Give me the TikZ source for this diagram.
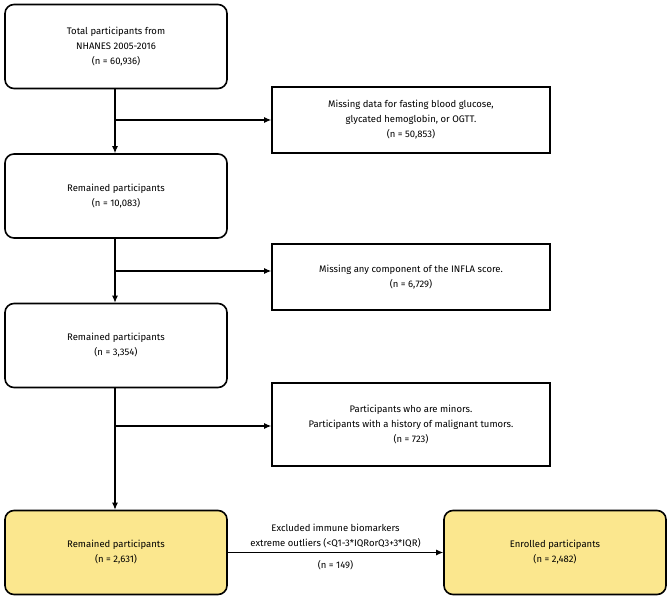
\documentclass[tikz,border=0pt]{standalone}
\usepackage{fontspec}
\setmainfont{Fira Sans}
\usetikzlibrary{arrows.meta,positioning}
\definecolor{boxyellow}{HTML}{FBE78E}
\begin{document}
\begin{tikzpicture}[x=1pt,y=-1pt,font=\fontsize{9.5}{15}\selectfont]
    \tikzstyle{stepbox}=[draw=black,line width=1.6pt,rounded corners=9pt,minimum width=222pt,minimum height=84pt,align=center]
    \tikzstyle{outbox}=[draw=black,line width=1.6pt,minimum width=278pt,align=center]
    \tikzstyle{marrs}=[line width=1.1pt,-{Latex[length=7pt,width=6pt]}]

    \useasboundingbox (0,0) rectangle (669,601);

    \node[stepbox] (total) at (116,46.5) {Total participants from\\NHANES 2005-2016\\(n = 60,936)};
    \node[stepbox] (rem1) at (116,196) {Remained participants\\(n = 10,083)};
    \node[stepbox] (rem2) at (116,345.5) {Remained participants\\(n = 3,354)};
    \node[stepbox,fill=boxyellow] (rem3) at (116,552.5) {Remained participants\\(n = 2,631)};
    \node[stepbox,fill=boxyellow] (enrol) at (555,552.5) {Enrolled participants\\(n = 2,482)};

    \node[outbox,minimum height=66pt] (miss1) at (411,120) {Missing data for fasting blood glucose,\\glycated hemoglobin, or OGTT.\\(n = 50,853)};
    \node[outbox,minimum height=66pt] (miss2) at (411,277) {Missing any component of the INFLA score.\\(n = 6,729)};
    \node[outbox,minimum height=83pt] (miss3) at (411,424.5) {Participants who are minors.\\Participants with a history of malignant tumors.\\(n = 723)};

    \coordinate (j1) at (115,120);
    \coordinate (j2) at (115,271);
    \coordinate (j3) at (115,426);

    \draw[marrs] (total.south -| j1) -- (rem1.north -| j1);
    \draw[marrs] (rem1.south -| j2) -- (rem2.north -| j2);
    \draw[marrs] (rem2.south -| j3) -- (rem3.north -| j3);
    \draw[marrs] (j1) -- (miss1.west);
    \draw[marrs] (j2) -- (j2 -| miss2.west);
    \draw[marrs] (j3) -- (j3 -| miss3.west);
    \draw[marrs] (rem3) -- (enrol)
        node[midway,above=1pt,align=center] {Excluded immune biomarkers\\extreme outliers (<Q1-3*IQRorQ3+3*IQR)}
        node[midway,below=4pt] {(n = 149)};
\end{tikzpicture}
\end{document}
